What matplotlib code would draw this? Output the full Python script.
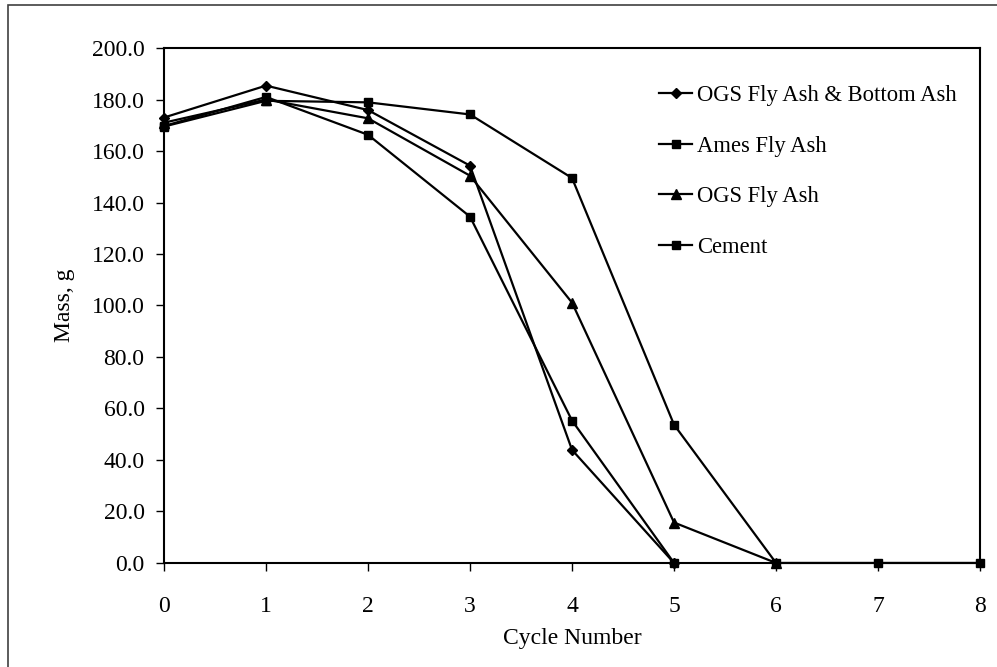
import matplotlib
matplotlib.use("Agg")
import matplotlib.pyplot as plt
from matplotlib.patches import Rectangle

plt.rcParams['font.family'] = ['Liberation Serif', 'DejaVu Serif']
plt.rcParams['font.size'] = 17

cycles_full = [0, 1, 2, 3, 4, 5, 6, 7, 8]

labels = ["OGS Fly Ash & Bottom Ash", "Ames Fly Ash", "OGS Fly Ash", "Cement"]
x_ogs_ba = [0, 1, 2, 3, 4, 5]
ogs_ba = [173.0, 185.4, 175.9, 154.3, 43.9, 0.0]
x_ames = [0, 1, 2, 3, 4, 5]
ames = [169.7, 181.0, 166.3, 134.5, 55.3, 0.0]
x_ogs = [0, 1, 2, 3, 4, 5, 6]
ogs = [171.0, 180.0, 172.7, 150.4, 101.1, 15.7, 0.0]
x_cement = [0, 1, 2, 3, 4, 5, 6, 7, 8]
cement = [169.5, 179.5, 178.9, 174.2, 149.5, 53.7, 0.0, 0.0, 0.0]

yticks = [0, 20, 40, 60, 80, 100, 120, 140, 160, 180, 200]

fig = plt.figure(figsize=(9.97, 6.67), dpi=100)
ax = fig.add_axes([0.1645, 0.156, 0.8185, 0.772])

ax.plot(x_ogs_ba, ogs_ba, color='black', lw=1.6, marker='D', ms=5.5, label=labels[0], clip_on=False, zorder=3)
ax.plot(x_ames, ames, color='black', lw=1.6, marker='s', ms=5.5, label=labels[1], clip_on=False, zorder=3)
ax.plot(x_ogs, ogs, color='black', lw=1.6, marker='^', ms=6.5, label=labels[2], clip_on=False, zorder=3)
ax.plot(x_cement, cement, color='black', lw=1.6, marker='s', ms=5.5, label=labels[3], clip_on=False, zorder=3)

ax.set_xlim(0, 8)
ax.set_ylim(0, 200)
ax.set_xticks(cycles_full)
ax.set_yticks(yticks)
ax.set_yticklabels([f"{v:.1f}" for v in yticks])
ax.tick_params(axis='y', direction='out', length=6, width=1, pad=8)
ax.tick_params(axis='x', direction='out', length=6, width=1, pad=18)
for s in ax.spines.values():
    s.set_linewidth(1.5)
ax.set_xlabel("Cycle Number", labelpad=8)
ax.set_ylabel("Mass, g", labelpad=12)

ax.legend(loc='upper left', bbox_to_anchor=(0.582, 0.967), frameon=False,
          fontsize=16.3, handlelength=1.45, handletextpad=0.2, labelspacing=1.3)

fig.patches.append(Rectangle((0.008, -0.1), 1.2, 0.1 + 0.9925, transform=fig.transFigure,
                             fill=False, edgecolor='#404040', lw=1.2))

fig.savefig("out.png", dpi=100)
